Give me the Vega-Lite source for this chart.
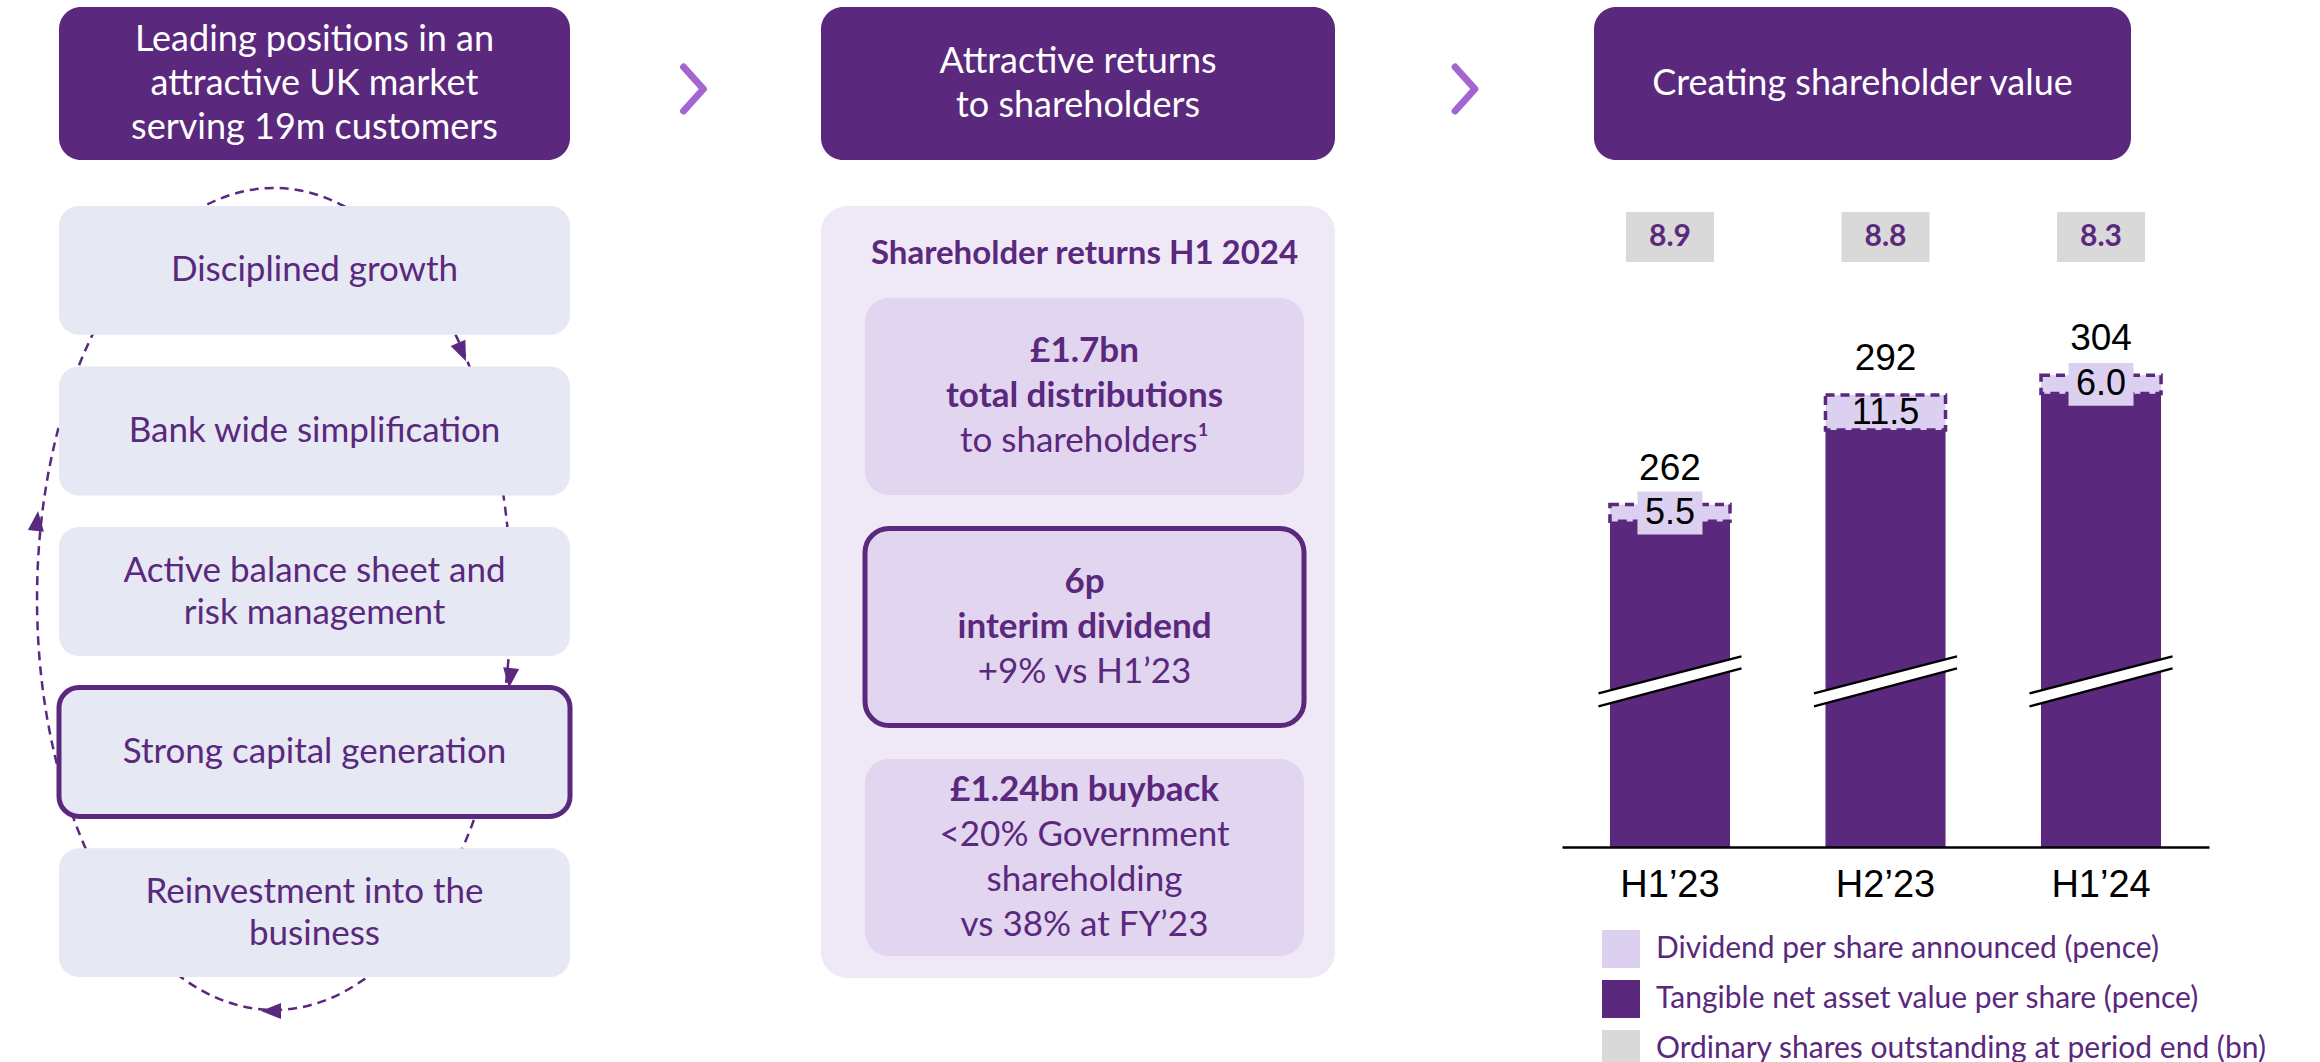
{
  "$schema": "https://vega.github.io/schema/vega-lite/v6.json",
  "background": "#ffffff",
  "padding": {"left": 27, "top": 7, "right": 0, "bottom": 0},
  "config": {
    "view": {"stroke": null},
    "font": "Lato"
  },
  "datasets": {
    "periods": [
      {"period": "H1’23", "tnav": 262, "dividend": 5.5, "shares": 8.9},
      {"period": "H2’23", "tnav": 292, "dividend": 11.5, "shares": 8.8},
      {"period": "H1’24", "tnav": 304, "dividend": 6.0, "shares": 8.3}
    ]
  },
  "spacing": 0,
  "hconcat": [
    {
      "bounds": "flush",
      "spacing": 46,
      "vconcat": [
        {
          "width": 511, "height": 153,
          "data": {"values": [{"heading": "Leading positions in an\nattractive UK market\nserving 19m customers"}]},
          "layer": [
            {"mark": {"type": "rect", "color": "#5A287D", "cornerRadius": 22},
             "encoding": {"x": {"value": 0}, "x2": {"value": "width"}, "y": {"value": 0}, "y2": {"value": "height"}}},
            {"mark": {"type": "text", "color": "#ffffff", "font": "Lato", "fontSize": 36, "lineHeight": 44, "lineBreak": "\n", "align": "center", "baseline": "middle", "dy": -44},
             "encoding": {"text": {"field": "heading"}}}
          ]
        },
        {
          "width": 511, "height": 771,
          "data": {"values": [
            {"step": "Disciplined growth", "highlight": false},
            {"step": "Bank wide simplification", "highlight": false},
            {"step": "Active balance sheet and\nrisk management", "highlight": false},
            {"step": "Strong capital generation", "highlight": true},
            {"step": "Reinvestment into the\nbusiness", "highlight": false}
          ]},
          "encoding": {
            "y": {"field": "step", "type": "nominal", "sort": null, "scale": {"type": "band", "paddingInner": 0.1975, "paddingOuter": 0}, "axis": null}
          },
          "layer": [
            {"data": {"values": [{"loop": "cycle"}]},
             "mark": {"type": "point", "shape": "M0.4781,0.0182C0.4781,0.5705 0.2200,1.0182 -0.0985,1.0182C-0.4170,1.0182 -0.6751,0.5705 -0.6751,0.0182C-0.6751,-0.5341 -0.4170,-0.9818 -0.0985,-0.9818C0.2200,-0.9818 0.4781,-0.5341 0.4781,0.0182Z", "size": 675684, "filled": false, "color": "#5A287D", "strokeWidth": 2.5, "strokeDash": [9, 6], "opacity": 1},
             "encoding": {"y": null}},
            {"data": {"values": [{"loop": "arrows"}]},
             "mark": {"type": "point", "shape": "M0.3686,-0.5604L0.3313,-0.5972L0.3671,-0.6128ZM0.4730,0.2347L0.4590,0.1842L0.4978,0.1884ZM-0.1301,1.0207L-0.0815,1.0012L-0.0815,1.0402ZM-0.6725,-0.1957L-0.6585,-0.1452L-0.6973,-0.1494Z", "size": 675684, "filled": true, "color": "#5A287D", "strokeWidth": 0, "opacity": 1},
             "encoding": {"y": null}},
            {"mark": {"type": "rect", "fill": "#E6E8F4", "cornerRadius": 20, "stroke": "#5A287D"},
             "encoding": {
               "x": {"value": 0}, "x2": {"value": "width"},
               "strokeWidth": {"condition": {"test": "datum.highlight", "value": 5}, "value": 0}
             }},
            {"transform": [{"filter": "indexof(datum.step, '\\n') < 0"}],
             "mark": {"type": "text", "color": "#5A287D", "font": "Lato", "fontSize": 35, "lineHeight": 42, "lineBreak": "\n", "align": "center", "baseline": "middle"},
             "encoding": {"text": {"field": "step"}}},
            {"transform": [{"filter": "indexof(datum.step, '\\n') >= 0"}],
             "mark": {"type": "text", "color": "#5A287D", "font": "Lato", "fontSize": 35, "lineHeight": 42, "lineBreak": "\n", "align": "center", "baseline": "middle", "dy": -21},
             "encoding": {"text": {"field": "step"}}}
          ]
        }
      ]
    },
    {
      "width": 248, "height": 153,
      "data": {"values": [{"marker": "next"}]},
      "mark": {"type": "point", "shape": "M-0.61,-0.75L0.29,0.25L-0.61,1.25", "size": 1936, "filled": false, "color": "#A365D1", "strokeWidth": 7, "strokeCap": "round", "strokeJoin": "round", "opacity": 1},
      "encoding": {}
    },
    {
      "bounds": "flush",
      "spacing": 46,
      "vconcat": [
        {
          "width": 514, "height": 153,
          "data": {"values": [{"heading": "Attractive returns\nto shareholders"}]},
          "layer": [
            {"mark": {"type": "rect", "color": "#5A287D", "cornerRadius": 22},
             "encoding": {"x": {"value": 0}, "x2": {"value": "width"}, "y": {"value": 0}, "y2": {"value": "height"}}},
            {"mark": {"type": "text", "color": "#ffffff", "font": "Lato", "fontSize": 36, "lineHeight": 44, "lineBreak": "\n", "align": "center", "baseline": "middle", "dy": -22},
             "encoding": {"text": {"field": "heading"}}}
          ]
        },
        {
          "width": 514, "height": 772,
          "layer": [
            {"data": {"values": [{"panel": "returns"}]},
             "mark": {"type": "rect", "color": "#EFE9F7", "cornerRadius": 26},
             "encoding": {"x": {"value": 0}, "x2": {"value": "width"}, "y": {"value": 0}, "y2": {"value": "height"}}},
            {
              "data": {"values": [
                {"box": "distributions", "bold": "£1.7bn\ntotal distributions", "regular": "to shareholders¹", "highlight": false},
                {"box": "dividend", "bold": "6p\ninterim dividend", "regular": "+9% vs H1’23", "highlight": true},
                {"box": "buyback", "bold": "£1.24bn buyback", "regular": "<20% Government\nshareholding\nvs 38% at FY’23", "highlight": false}
              ]},
              "encoding": {
                "x": {"datum": "box", "type": "nominal", "scale": {"type": "band", "domain": ["box"], "paddingInner": 0, "paddingOuter": 0.0854, "align": 0.587}, "axis": null},
                "y": {"field": "box", "type": "nominal", "sort": null, "scale": {"type": "band", "paddingInner": 0.145, "paddingOuter": 0.247, "align": 0.807}, "axis": null}
              },
              "layer": [
                {"transform": [{"filter": "datum.box === 'distributions'"}],
                 "mark": {"type": "text", "color": "#5A287D", "font": "Lato", "fontWeight": "bold", "fontSize": 33, "align": "center", "baseline": "middle", "dy": -142.5},
                 "encoding": {"text": {"value": "Shareholder returns H1 2024"}}},
                {"mark": {"type": "rect", "fill": "#E1D5EF", "cornerRadius": 24, "stroke": "#5A287D"},
                 "encoding": {"strokeWidth": {"condition": {"test": "datum.highlight", "value": 5}, "value": 0}}},
                {"transform": [{"filter": "length(split(datum.bold, '\\n')) === 2"}],
                 "mark": {"type": "text", "color": "#5A287D", "font": "Lato", "fontWeight": "bold", "fontSize": 35, "lineHeight": 45, "lineBreak": "\n", "align": "center", "baseline": "middle", "dy": -45},
                 "encoding": {"text": {"field": "bold"}}},
                {"transform": [{"filter": "length(split(datum.bold, '\\n')) === 2"}],
                 "mark": {"type": "text", "color": "#5A287D", "font": "Lato", "fontWeight": "normal", "fontSize": 35, "lineHeight": 45, "lineBreak": "\n", "align": "center", "baseline": "middle", "dy": 45},
                 "encoding": {"text": {"field": "regular"}}},
                {"transform": [{"filter": "length(split(datum.bold, '\\n')) === 1"}],
                 "mark": {"type": "text", "color": "#5A287D", "font": "Lato", "fontWeight": "bold", "fontSize": 35, "lineHeight": 45, "lineBreak": "\n", "align": "center", "baseline": "middle", "dy": -67.5},
                 "encoding": {"text": {"field": "bold"}}},
                {"transform": [{"filter": "length(split(datum.bold, '\\n')) === 1"}],
                 "mark": {"type": "text", "color": "#5A287D", "font": "Lato", "fontWeight": "normal", "fontSize": 35, "lineHeight": 45, "lineBreak": "\n", "align": "center", "baseline": "middle", "dy": -22.5},
                 "encoding": {"text": {"field": "regular"}}}
              ]
            }
          ]
        }
      ]
    },
    {
      "width": 227, "height": 153,
      "data": {"values": [{"marker": "next"}]},
      "mark": {"type": "point", "shape": "M0.30,-0.75L1.20,0.25L0.30,1.25", "size": 1936, "filled": false, "color": "#A365D1", "strokeWidth": 7, "strokeCap": "round", "strokeJoin": "round", "opacity": 1},
      "encoding": {}
    },
    {
      "bounds": "flush",
      "spacing": 28,
      "vconcat": [
        {
          "width": 569, "height": 171,
          "data": {"values": [{"heading": "Creating shareholder value"}]},
          "encoding": {
            "x": {"datum": "h", "type": "nominal", "scale": {"type": "band", "domain": ["h"], "paddingInner": 0, "paddingOuter": 0.0298, "align": 1}, "axis": null},
            "y": {"datum": "h", "type": "nominal", "scale": {"type": "band", "domain": ["h"], "paddingInner": 0, "paddingOuter": 0.0588, "align": 0}, "axis": null}
          },
          "layer": [
            {"mark": {"type": "rect", "color": "#5A287D", "cornerRadius": 22}},
            {"mark": {"type": "text", "color": "#ffffff", "font": "Lato", "fontSize": 36, "align": "center", "baseline": "middle"},
             "encoding": {"text": {"field": "heading"}}}
          ]
        },
        {
          "width": 647, "height": 56,
          "data": {"name": "periods"},
          "encoding": {
            "x": {"field": "period", "type": "nominal", "sort": null, "scale": {"type": "band", "paddingInner": 0.5917, "paddingOuter": 0.2969}, "axis": null},
            "y": {"datum": "shares", "type": "nominal", "scale": {"type": "band", "domain": ["shares"], "paddingInner": 0, "paddingOuter": 0.06, "align": 1}, "axis": null}
          },
          "layer": [
            {"mark": {"type": "rect", "color": "#D9D9D9"}},
            {"mark": {"type": "text", "color": "#5A287D", "font": "Lato", "fontWeight": "bold", "fontSize": 30, "align": "center", "baseline": "middle"},
             "encoding": {"text": {"field": "shares", "type": "quantitative", "format": ".1f"}}}
          ]
        },
        {
          "width": 647, "height": 557,
          "data": {"name": "periods"},
          "encoding": {
            "x": {"field": "period", "type": "nominal", "sort": null,
                  "scale": {"type": "band", "paddingInner": 0.443, "paddingOuter": 0.2225},
                  "axis": {"title": null, "labelAngle": 0, "ticks": false, "grid": false, "domainColor": "#000000", "domainWidth": 2.5, "labelFont": "Liberation Sans", "labelFontSize": 38, "labelColor": "#000000", "labelPadding": 19, "zindex": 1}}
          },
          "layer": [
            {"transform": [{"fold": ["tnav", "dividend"], "as": ["measure", "value"]}],
             "mark": {"type": "bar", "clip": true, "strokeWidth": 3.5},
             "encoding": {
               "y": {"field": "value", "type": "quantitative", "stack": "zero", "scale": {"domain": [155, 338], "nice": false, "zero": false}, "axis": null},
               "order": {"field": "measure", "sort": "descending"},
               "color": {"field": "measure", "type": "nominal",
                         "scale": {"domain": ["dividend", "tnav", "shares"], "range": ["#DCD0F0", "#5A287D", "#D9D9D9"]},
                         "legend": {"orient": "none", "legendX": 1543, "legendY": 923, "title": null, "direction": "vertical", "symbolType": "square", "symbolSize": 1444, "symbolStrokeWidth": 0, "labelFont": "Lato", "labelFontSize": 30, "labelColor": "#5A287D", "rowPadding": 12, "labelOffset": 16, "padding": 0, "labelLimit": 0,
                                    "labelExpr": "datum.value === 'dividend' ? 'Dividend per share announced (pence)' : datum.value === 'tnav' ? 'Tangible net asset value per share (pence)' : 'Ordinary shares outstanding at period end (bn)'"}},
               "stroke": {"condition": {"test": "datum.measure === 'dividend'", "value": "#5A287D"}, "value": "transparent"},
               "strokeDash": {"condition": {"test": "datum.measure === 'dividend'", "value": [9, 6]}, "value": [1, 0]}
             }},
            {"mark": {"type": "point", "shape": "M-0.894,0.153L0.894,-0.309L0.894,-0.159L-0.894,0.316Z", "size": 25600, "filled": true, "color": "#ffffff", "strokeWidth": 0, "opacity": 1},
             "encoding": {"y": {"datum": 209.5, "type": "quantitative"}}},
            {"mark": {"type": "point", "shape": "M-0.894,0.153L0.894,-0.309M-0.894,0.316L0.894,-0.159", "size": 25600, "filled": false, "color": "#000000", "strokeWidth": 2.5, "opacity": 1},
             "encoding": {"y": {"datum": 209.5, "type": "quantitative"}}},
            {
              "transform": [
                {"fold": ["tnav", "dividend"], "as": ["measure", "value"]},
                {"stack": "value", "groupby": ["period"], "sort": [{"field": "measure", "order": "descending"}], "as": ["v0", "v1"]},
                {"filter": "datum.measure === 'dividend'"},
                {"fold": ["v0", "v1"], "as": ["edge", "pos"]},
                {"aggregate": [{"op": "mean", "field": "pos", "as": "mid"}, {"op": "max", "field": "dividend", "as": "dividend"}], "groupby": ["period"]}
              ],
              "encoding": {"y": {"field": "mid", "type": "quantitative"}},
              "layer": [
                {"mark": {"type": "point", "shape": "M-1,-0.66L1,-0.66L1,0.66L-1,0.66Z", "size": 4225, "filled": true, "color": "#DCD0F0", "strokeWidth": 0},
                 "encoding": {"opacity": {"condition": {"test": "datum.dividend < 8", "value": 1}, "value": 0}}},
                {"mark": {"type": "text", "font": "Liberation Sans", "fontSize": 36, "color": "#000000", "align": "center", "baseline": "middle"},
                 "encoding": {"text": {"field": "dividend", "type": "quantitative", "format": ".1f"}}}
              ]
            },
            {"transform": [{"fold": ["tnav", "dividend"], "as": ["measure", "value"]}],
             "mark": {"type": "text", "font": "Liberation Sans", "fontSize": 37, "color": "#000000", "align": "center", "baseline": "middle", "dy": -36},
             "encoding": {
               "y": {"field": "value", "type": "quantitative", "stack": "zero"},
               "order": {"field": "measure", "sort": "descending"},
               "detail": {"field": "measure", "type": "nominal"},
               "text": {"condition": {"test": "datum.measure === 'dividend'", "field": "tnav", "type": "quantitative"}, "value": ""}
             }}
          ]
        }
      ]
    }
  ]
}
